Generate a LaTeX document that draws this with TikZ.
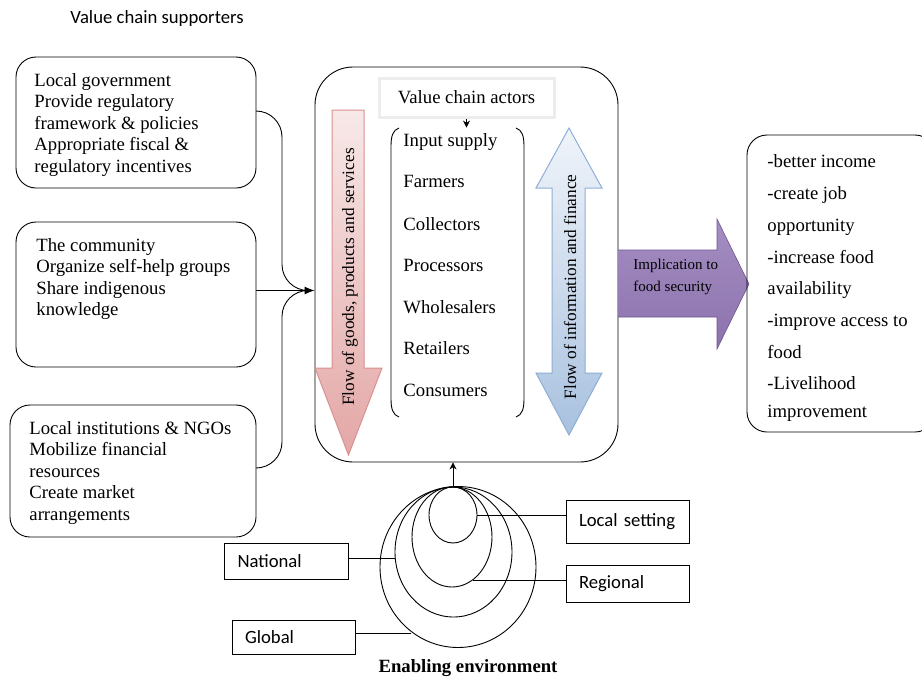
\documentclass[tikz,border=0pt]{standalone}
\usepackage{fontspec}
\setmainfont{Liberation Serif}
\newfontfamily\labelsans{Carlito}
\usetikzlibrary{arrows.meta,shapes.geometric}

\definecolor{pinkTop}{HTML}{F8E8E8}
\definecolor{pinkBot}{HTML}{E3A7A6}
\definecolor{pinkEdge}{HTML}{D9908F}
\definecolor{blueTop}{HTML}{F0F4FA}
\definecolor{blueBot}{HTML}{A8C1DF}
\definecolor{blueEdge}{HTML}{8FAED6}
\definecolor{purpTop}{HTML}{A48EC2}
\definecolor{purpMid}{HTML}{7C5F9F}
\definecolor{purpBot}{HTML}{8C72AD}
\definecolor{purpEdge}{HTML}{6E5690}
\definecolor{frameGray}{HTML}{EDEDED}

\begin{document}
\begin{tikzpicture}[x=1pt,y=-1pt,line width=0.9pt,
  body/.style={font=\fontsize{18.7}{21.5}\selectfont},
  flowtxt/.style={font=\fontsize{17.3}{20}\selectfont, inner sep=0pt},
  sanslbl/.style={font=\labelsans\fontsize{18.7}{22}\selectfont},
  supbox/.style={draw, rounded corners=20pt, inner sep=0pt},
  txtblock/.style={body, align=left, anchor=west, inner sep=0pt},
  item/.style={body, anchor=west, inner sep=0pt, text height=12.7pt, text depth=4pt},
  envbox/.style={draw, sanslbl, rectangle, inner xsep=13pt, inner ysep=0pt, align=left},
  ring/.style={draw, ellipse, inner sep=0pt},
  bigtip/.style={-{Latex[length=10pt,width=8pt]}},
  smalltip/.style={-{Stealth[length=7pt,width=7pt]}}]
\useasboundingbox (0,0) rectangle (922,678);
\clip (0,0) rectangle (922,678);

% heading
\node[sanslbl, anchor=west, inner sep=0pt] (title) at (70,19) {Value chain supporters};

% supporter boxes
\node[supbox, minimum width=240pt, minimum height=131pt] (gov) at (136,122.5) {};
\node[txtblock] (govtxt) at (34,125) {Local government\\Provide regulatory\\framework \& policies\\Appropriate fiscal \&\\regulatory incentives};

\node[supbox, minimum width=240pt, minimum height=145pt] (comm) at (136,294.5) {};
\node[txtblock] (commtxt) at (36,279) {The community\\Organize self-help groups\\Share indigenous\\knowledge};

\node[supbox, minimum width=246pt, minimum height=132pt] (ngo) at (133,471) {};
\node[txtblock] (ngotxt) at (29,473) {Local institutions \& NGOs\\Mobilize financial\\resources\\Create market\\arrangements};

% central value chain frame
\node[draw, rounded corners=38pt, minimum width=303pt, minimum height=395pt, inner sep=0pt] (central) at (466.5,264.5) {};

% supporters feeding into the chain
\coordinate (join) at (308,290.5);
\draw[rounded corners=26pt] ([yshift=11.5pt]gov.east) -| (282,290.5) -- (join);
\draw[rounded corners=26pt] ([yshift=3pt]ngo.east) -| (282,290.5) -- (join);
\draw[bigtip] ([yshift=4pt]comm.east) -- ([yshift=4pt]comm.east -| central.west);

% flow of goods (downward arrow)
\shadedraw[top color=pinkTop, bottom color=pinkBot, draw=pinkEdge, line width=1pt]
  (332,110) -- (364,110) -- (364,368) -- (382,368) -- (348.5,455) -- (315,368) -- (332,368) -- cycle;
\node[flowtxt, rotate=90] (goods) at (350,277) {Flow of goods, products and services};

% flow of information (double arrow)
\shadedraw[top color=blueTop, bottom color=blueBot, draw=blueEdge, line width=1pt]
  (569,128) -- (602,188) -- (585,188) -- (585,373) -- (602,373) -- (569,435)
  -- (536,373) -- (552,373) -- (552,188) -- (536,188) -- cycle;
\node[flowtxt, rotate=90] (info) at (570,287) {Flow of information and finance};

% actors heading and list
\node[draw=frameGray, line width=3pt, fill=white, minimum width=175pt, minimum height=39pt, inner sep=0pt, body] (actors) at (466.5,97.5) {Value chain actors};
\node[minimum width=133pt, minimum height=289pt, inner sep=0pt] (list) at (457.5,272.5) {};
\draw[smalltip] (actors.south) -- (actors.south |- list.north);
\draw (399,128) .. controls (393,130) and (391,136) .. (391,146) -- (391,399) .. controls (391,409) and (393,415) .. (399,417);
\draw (516,128) .. controls (522,130) and (524,136) .. (524,146) -- (524,399) .. controls (524,409) and (522,415) .. (516,417);
\foreach \w/\y [count=\i] in {Input supply/142, Farmers/183, Collectors/226, Processors/267, Wholesalers/309, Retailers/350, Consumers/392}
  \node[item] (a\i) at (403,\y) {\w};

% implication arrow
\shade[top color=purpTop, middle color=purpMid, bottom color=purpBot]
  (618,250) -- (717,250) -- (717,219) -- (749,284) -- (717,349) -- (717,317) -- (618,317) -- cycle;
\draw[purpEdge, line width=0.6pt]
  (618,250) -- (717,250) -- (717,219) -- (749,284) -- (717,349) -- (717,317) -- (618,317);
\node[align=left, anchor=west, inner sep=0pt, font=\fontsize{15}{21.5}\selectfont] (impl) at (633,277) {Implication to\\food security};

% outcomes
\node[supbox, minimum width=188pt, minimum height=297pt] (out) at (841,283.5) {};
\foreach \w/\y [count=\i] in {-better income/163, -create job/195, opportunity/227, -increase food/259, availability/290, -improve access to/322, food/354, -Livelihood/385, improvement/413}
  \node[item] (o\i) at (767,\y) {\w};

% enabling environment rings
\node[ring, minimum width=48pt, minimum height=56pt] (c1) at (453,515) {};
\node[ring, minimum width=80pt, minimum height=100pt] (c2) at (452,537) {};
\node[ring, minimum width=117pt, minimum height=130pt] (c3) at (453.5,552) {};
\node[ring, minimum width=156pt, minimum height=161pt] (c4) at (458,567) {};
\draw[smalltip] (c1.north) -- (c1.north |- central.south);

\node[envbox, minimum width=123pt, minimum height=43pt, text width=97pt] (loc) at (627.5,521.5) {Local setting};
\node[envbox, minimum width=123pt, minimum height=37pt, text width=97pt] (reg) at (627.5,583.5) {Regional};
\node[envbox, minimum width=124pt, minimum height=36pt, text width=97pt] (nat) at (286,561) {National};
\node[envbox, minimum width=123pt, minimum height=34pt, text width=97pt] (glob) at (293.5,637) {Global};

\draw (loc.west |- c1.east) -- (c1.east);
\draw ([yshift=3.5pt]reg.west) -- ++(-93,0);
\draw ([yshift=3pt]nat.east) -- ++(47,0);
\draw ([yshift=4pt]glob.east) -- ++(56,0);

\node[body, font=\fontsize{18.7}{21.5}\selectfont\bfseries, inner sep=0pt] (env) at (468,668) {Enabling environment};
\end{tikzpicture}
\end{document}
